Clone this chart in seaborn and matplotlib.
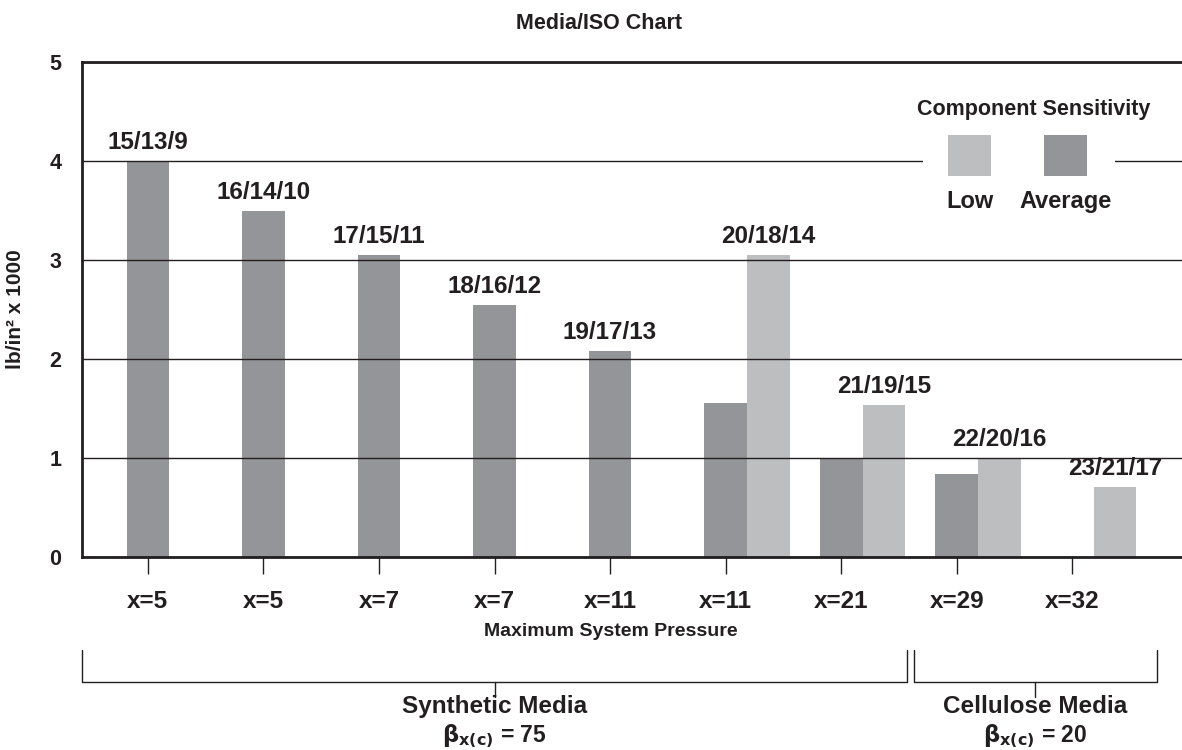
import numpy as np
import matplotlib
matplotlib.use("Agg")
import matplotlib.pyplot as plt
import matplotlib.transforms as mtransforms
from matplotlib.patches import Rectangle
import seaborn as sns

# data
iso_codes = ['15/13/9', '16/14/10', '17/15/11', '18/16/12', '19/17/13',
             '20/18/14', '21/19/15', '22/20/16', '23/21/17']
pressure_labels = ['x=5', 'x=5', 'x=7', 'x=7', 'x=11', 'x=11', 'x=21', 'x=29', 'x=32']
average = [4.0, 3.5, 3.05, 2.55, 2.08, 1.56, 0.99, 0.84, np.nan]
low = [np.nan, np.nan, np.nan, np.nan, np.nan, 3.05, 1.54, 1.00, 0.71]
media_groups = ['Synthetic Media', 'Cellulose Media']
media_beta = ['75', '20']
group_members = [[0, 1, 2, 3, 4, 5, 6], [7, 8]]

INK = '#231f20'
DARK = '#939598'
LIGHT = '#bcbec0'
BAR_W = 0.37

sns.set_theme(style='white')
plt.rcParams['font.family'] = ['Liberation Sans', 'DejaVu Sans']
plt.rcParams['font.weight'] = 'bold'

fig = plt.figure(figsize=(11.82, 7.5), dpi=100)
ax = fig.add_axes([0.0694, 0.2573, 0.9306, 0.66])

pos = np.arange(len(iso_codes))
sns.barplot(x=pos, y=average, native_scale=True, width=BAR_W, color=DARK,
            saturation=1, linewidth=0, errorbar=None, ax=ax)
sns.barplot(x=pos + BAR_W, y=low, native_scale=True, width=BAR_W, color=LIGHT,
            saturation=1, linewidth=0, errorbar=None, ax=ax)

# ISO code above the tallest bar of each category
for i, code in enumerate(iso_codes):
    a = average[i] if not np.isnan(average[i]) else -1
    l = low[i] if not np.isnan(low[i]) else -1
    if a >= l:
        bx, by = pos[i], a
    else:
        bx, by = pos[i] + BAR_W, l
    ax.annotate(code, (bx, by), xytext=(0, 5), textcoords='offset points',
                ha='center', va='bottom', fontsize=17.5, color=INK, fontweight='bold')

ax.set_xlim(-0.57, 8.95)
ax.set_ylim(0, 5)
ax.set_yticks(range(6))
ax.set_xticks(pos)
ax.set_xticklabels(pressure_labels)
ax.tick_params(axis='x', length=12, width=1, color=INK, direction='out', pad=12,
               labelsize=17.5, labelcolor=INK, bottom=True)
ax.tick_params(axis='y', length=0, pad=15, labelsize=15.5, labelcolor=INK)

ax.yaxis.grid(True, color=INK, lw=1)
ax.set_axisbelow(False)
for side in ['left', 'bottom', 'top']:
    ax.spines[side].set_color(INK)
    ax.spines[side].set_linewidth(2)
ax.spines['right'].set_visible(False)

ax.set_ylabel('lb/in² x 1000', fontsize=15, color=INK, fontweight='bold')
ax.yaxis.set_label_coords(-0.052, 0.5)
ax.set_xlabel('Maximum System Pressure', fontsize=14, color=INK, fontweight='bold')
ax.xaxis.set_label_coords(0.481, -0.134)
ax.xaxis.label.set_va('top')
ax.set_title('Media/ISO Chart', fontsize=15.5, color=INK, fontweight='bold', pad=24)
ax.title.set_x(0.47)

# media brackets below the axis
trans = mtransforms.blended_transform_factory(ax.transData, ax.transAxes)
for g, (name, beta, members) in enumerate(zip(media_groups, media_beta, group_members)):
    x0 = members[0] - (0.57 if g == 0 else BAR_W)
    x1 = members[-1] + (0.57 if g == 0 else 0.73)
    xm = (x0 + x1) / 2
    ax.plot([x0, x0, x1, x1], [-0.188, -0.2525, -0.2525, -0.188], color=INK, lw=1,
            transform=trans, clip_on=False)
    ax.plot([xm, xm], [-0.2525, -0.283], color=INK, lw=1, transform=trans, clip_on=False)
    ax.text(xm, -0.301, name, transform=trans, ha='center', va='center',
            fontsize=17.5, color=INK, fontweight='bold')
    ax.text(xm, -0.362, r'$\mathrm{\beta}_{\mathbf{x(c)}}$ = ' + beta, transform=trans,
            ha='center', va='center', fontsize=16.5, color=INK, fontweight='bold')

# legend drawn as in the original: swatches with labels underneath
ax.add_patch(Rectangle((0.7645, 0.69), 0.175, 0.255, transform=ax.transAxes,
                       facecolor='white', edgecolor='none', zorder=3))
ax.text(0.865, 0.905, 'Component Sensitivity', transform=ax.transAxes, ha='center',
        va='center', fontsize=15.5, color=INK, fontweight='bold', zorder=4)
for cx, col, lab in [(0.807, LIGHT, 'Low'), (0.894, DARK, 'Average')]:
    ax.add_patch(Rectangle((cx - 0.0195, 0.77), 0.039, 0.083, transform=ax.transAxes,
                           facecolor=col, edgecolor='none', zorder=4))
    ax.text(cx, 0.718, lab, transform=ax.transAxes, ha='center', va='center',
            fontsize=17, color=INK, fontweight='bold', zorder=4)

fig.savefig('out.png', dpi=100)
